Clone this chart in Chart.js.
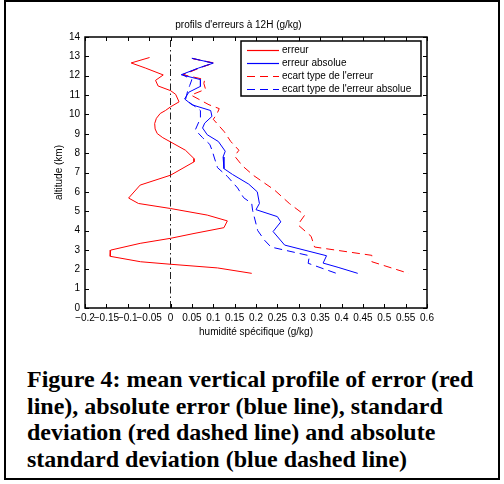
<!DOCTYPE html>
<html lang="fr">
<head>
<meta charset="UTF-8">
<title>profils d'erreurs à 12H</title>
<script src="https://cdn.jsdelivr.net/npm/chart.js"></script>
<style>
    body { margin: 0; background: #fff; }
    .pagina { position: relative; width: 504px; height: 484px; overflow: hidden; }
    .moldura { position: absolute; left: 4px; top: 0; width: 492px; height: 476px; border: 2px solid #000; }
    #grafico { position: absolute; left: 0; top: 0; }
    .legenda {
        position: absolute; left: 27px; top: 366px;
        font: bold 24px "Liberation Serif", "Times New Roman", serif;
        line-height: 26.7px; color: #000; white-space: nowrap;
    }
</style>
</head>
<body>
<div class="pagina">
    <div class="moldura"></div>
    <canvas id="grafico" width="504" height="350"></canvas>
    <div class="legenda">
        Figure 4: mean vertical profile of error (red<br>
        line), absolute error (blue line), standard<br>
        deviation (red dashed line) and absolute<br>
        standard deviation (blue dashed line)
    </div>
</div>

<script>
// erreur (linha vermelha)
const altErreur = [12.94, 12.66, 12.40, 12.04, 11.76, 11.47, 11.23, 11.04, 10.65, 10.39, 10.20, 10.05, 9.80, 9.53, 9.25, 9.01, 8.80, 8.58, 8.15, 7.72, 7.55, 6.86, 6.35, 5.68, 5.40, 5.14, 4.80, 4.50, 4.15, 3.85, 3.60, 3.34, 2.99, 2.67, 2.39, 2.26, 2.07, 1.79];
const erreur    = [-0.049, -0.092, -0.059, -0.017, -0.035, -0.029, 0.0, 0.012, 0.020, 0.0, -0.012, -0.024, -0.033, -0.037, -0.036, -0.031, -0.018, 0.0, 0.035, 0.055, 0.055, 0.0, -0.071, -0.098, -0.075, 0.0, 0.086, 0.133, 0.125, 0.055, 0.0, -0.071, -0.140, -0.141, -0.070, 0.0, 0.110, 0.190];

// erreur absolue (linha azul)
const altErreurAbs = [12.90, 12.65, 12.40, 12.05, 11.80, 11.45, 11.15, 10.80, 10.50, 10.20, 9.90, 9.55, 9.30, 8.95, 8.60, 8.10, 7.80, 7.20, 6.90, 6.40, 6.00, 5.40, 5.08, 4.72, 4.45, 3.95, 3.25, 2.70, 2.32, 2.10, 1.79];
const erreurAbs    = [0.050, 0.100, 0.066, 0.025, 0.070, 0.070, 0.043, 0.033, 0.050, 0.094, 0.097, 0.080, 0.075, 0.086, 0.112, 0.128, 0.123, 0.125, 0.145, 0.183, 0.203, 0.208, 0.200, 0.250, 0.258, 0.240, 0.267, 0.365, 0.357, 0.392, 0.438];

// ecart type de l'erreur (tracejado vermelho)
const altEcart = [12.88, 12.66, 12.40, 12.05, 11.80, 11.60, 11.30, 11.00, 10.50, 10.30, 10.00, 9.75, 9.10, 8.60, 8.15, 7.85, 7.35, 6.85, 6.10, 5.40, 4.80, 4.30, 3.70, 3.15, 2.72, 2.39, 1.79];
const ecart    = [0.052, 0.102, 0.068, 0.030, 0.080, 0.078, 0.082, 0.048, 0.090, 0.114, 0.108, 0.100, 0.126, 0.141, 0.160, 0.150, 0.168, 0.194, 0.243, 0.278, 0.314, 0.298, 0.329, 0.337, 0.471, 0.471, 0.557];

// ecart type de l'erreur absolue (tracejado azul)
const altEcartAbs = [12.90, 12.65, 12.40, 12.05, 11.80, 11.50, 11.20, 10.75, 10.50, 10.20, 9.80, 9.20, 8.80, 8.45, 8.10, 7.80, 7.25, 6.80, 6.20, 5.70, 5.40, 5.05, 4.00, 3.50, 3.15, 2.70, 2.31, 1.79];
const ecartAbs    = [0.050, 0.100, 0.066, 0.028, 0.050, 0.045, 0.040, 0.035, 0.052, 0.070, 0.070, 0.058, 0.075, 0.092, 0.098, 0.102, 0.110, 0.133, 0.157, 0.171, 0.190, 0.192, 0.204, 0.220, 0.235, 0.325, 0.322, 0.388];

// linha de referência x = 0
const zeroAlt = [0, 14];
const zeroVal = [0, 0];

const nomes = ['erreur', 'erreur absolue', "ecart type de l'erreur", "ecart type de l'erreur absolue"];

function juntar(valores, alts) {
    return valores.map((v, i) => ({ x: v, y: alts[i] }));
}

function serie(label, valores, alts, cor, tracejado) {
    return {
        label: label,
        data: juntar(valores, alts),
        showLine: true,
        borderColor: cor,
        backgroundColor: cor,
        borderWidth: 1,
        borderDash: tracejado ? [8, 5] : [],
        pointRadius: 0,
        tension: 0
    };
}

const fonte = { family: '"Liberation Sans", Arial, sans-serif', size: 10 };

// caixa, ticks para dentro e legenda no estilo matlab
const cadreMatlab = {
    id: 'cadreMatlab',
    afterDraw(chart) {
        const c = chart.ctx;
        const a = chart.chartArea;
        const sx = chart.scales.x, sy = chart.scales.y;
        c.save();
        c.strokeStyle = '#000';
        c.lineWidth = 1;
        c.beginPath();
        sx.ticks.forEach(t => {
            const px = Math.round(sx.getPixelForValue(t.value)) + 0.5;
            c.moveTo(px, a.bottom); c.lineTo(px, a.bottom - 4);
            c.moveTo(px, a.top); c.lineTo(px, a.top + 4);
        });
        sy.ticks.forEach(t => {
            const py = Math.round(sy.getPixelForValue(t.value)) + 0.5;
            c.moveTo(a.left, py); c.lineTo(a.left + 4, py);
            c.moveTo(a.right, py); c.lineTo(a.right - 4, py);
        });
        c.stroke();
        c.lineWidth = 1.5;
        c.strokeRect(a.left, a.top, a.right - a.left, a.bottom - a.top);

        // legenda
        const bx = a.left + 156, by = a.top + 4, bw = 180, bh = 55;
        c.fillStyle = '#fff';
        c.fillRect(bx, by, bw, bh);
        c.lineWidth = 1.5;
        c.strokeRect(bx, by, bw, bh);
        c.font = '10px "Liberation Sans", Arial, sans-serif';
        c.textBaseline = 'middle';
        chart.data.datasets.slice(0, 4).forEach((ds, i) => {
            const y = Math.round(by + 8.5 + i * 13) + 0.5;
            c.strokeStyle = ds.borderColor;
            c.lineWidth = 1.2;
            c.setLineDash(ds.borderDash);
            c.beginPath();
            c.moveTo(bx + 6, y); c.lineTo(bx + 38, y);
            c.stroke();
            c.setLineDash([]);
            c.fillStyle = '#000';
            c.fillText(ds.label, bx + 41, y);
        });
        c.restore();
    }
};

new Chart(document.getElementById('grafico'), {
    type: 'scatter',
    data: {
        datasets: [
            serie(nomes[0], erreur, altErreur, '#ff0000', false),
            serie(nomes[1], erreurAbs, altErreurAbs, '#0000ff', false),
            serie(nomes[2], ecart, altEcart, '#ff0000', true),
            serie(nomes[3], ecartAbs, altEcartAbs, '#0000ff', true),
            {
                label: 'zero',
                data: juntar(zeroVal, zeroAlt),
                showLine: true,
                borderColor: '#222',
                borderWidth: 1,
                borderDash: [7, 3, 1.5, 3],
                pointRadius: 0
            }
        ]
    },
    options: {
        responsive: false,
        animation: false,
        layout: { padding: { left: 50, right: 77, top: 10, bottom: 12 } },
        plugins: {
            legend: { display: false },
            tooltip: { enabled: false },
            title: {
                display: true,
                text: "profils d'erreurs à 12H (g/kg)",
                color: '#000',
                font: { family: fonte.family, size: 10, weight: 'normal' },
                padding: { top: 9, bottom: 6 }
            }
        },
        scales: {
            x: {
                type: 'linear',
                min: -0.2,
                max: 0.6,
                afterFit: s => { s.height = 30; },
                grid: { display: false, drawTicks: false },
                border: { display: false },
                ticks: {
                    stepSize: 0.05,
                    autoSkip: false,
                    maxRotation: 0,
                    minRotation: 0,
                    padding: 4,
                    color: '#000',
                    font: fonte,
                    callback: v => {
                        const r = Math.round(v * 100) / 100;
                        return r === 0 ? '0' : String(r).replace('-', '\u2212');
                    }
                },
                title: {
                    display: true,
                    text: 'humidité spécifique (g/kg)',
                    color: '#000',
                    font: fonte,
                    padding: { top: 0, bottom: 0 }
                }
            },
            y: {
                type: 'linear',
                min: 0,
                max: 14,
                afterFit: s => { s.width = 35; },
                grid: { display: false, drawTicks: false },
                border: { display: false },
                ticks: { stepSize: 1, padding: 5, color: '#000', font: fonte },
                title: {
                    display: true,
                    text: 'altitude (km)',
                    color: '#000',
                    font: fonte,
                    padding: { top: 3, bottom: 0 }
                }
            }
        }
    },
    plugins: [cadreMatlab]
});
</script>
</body>
</html>
